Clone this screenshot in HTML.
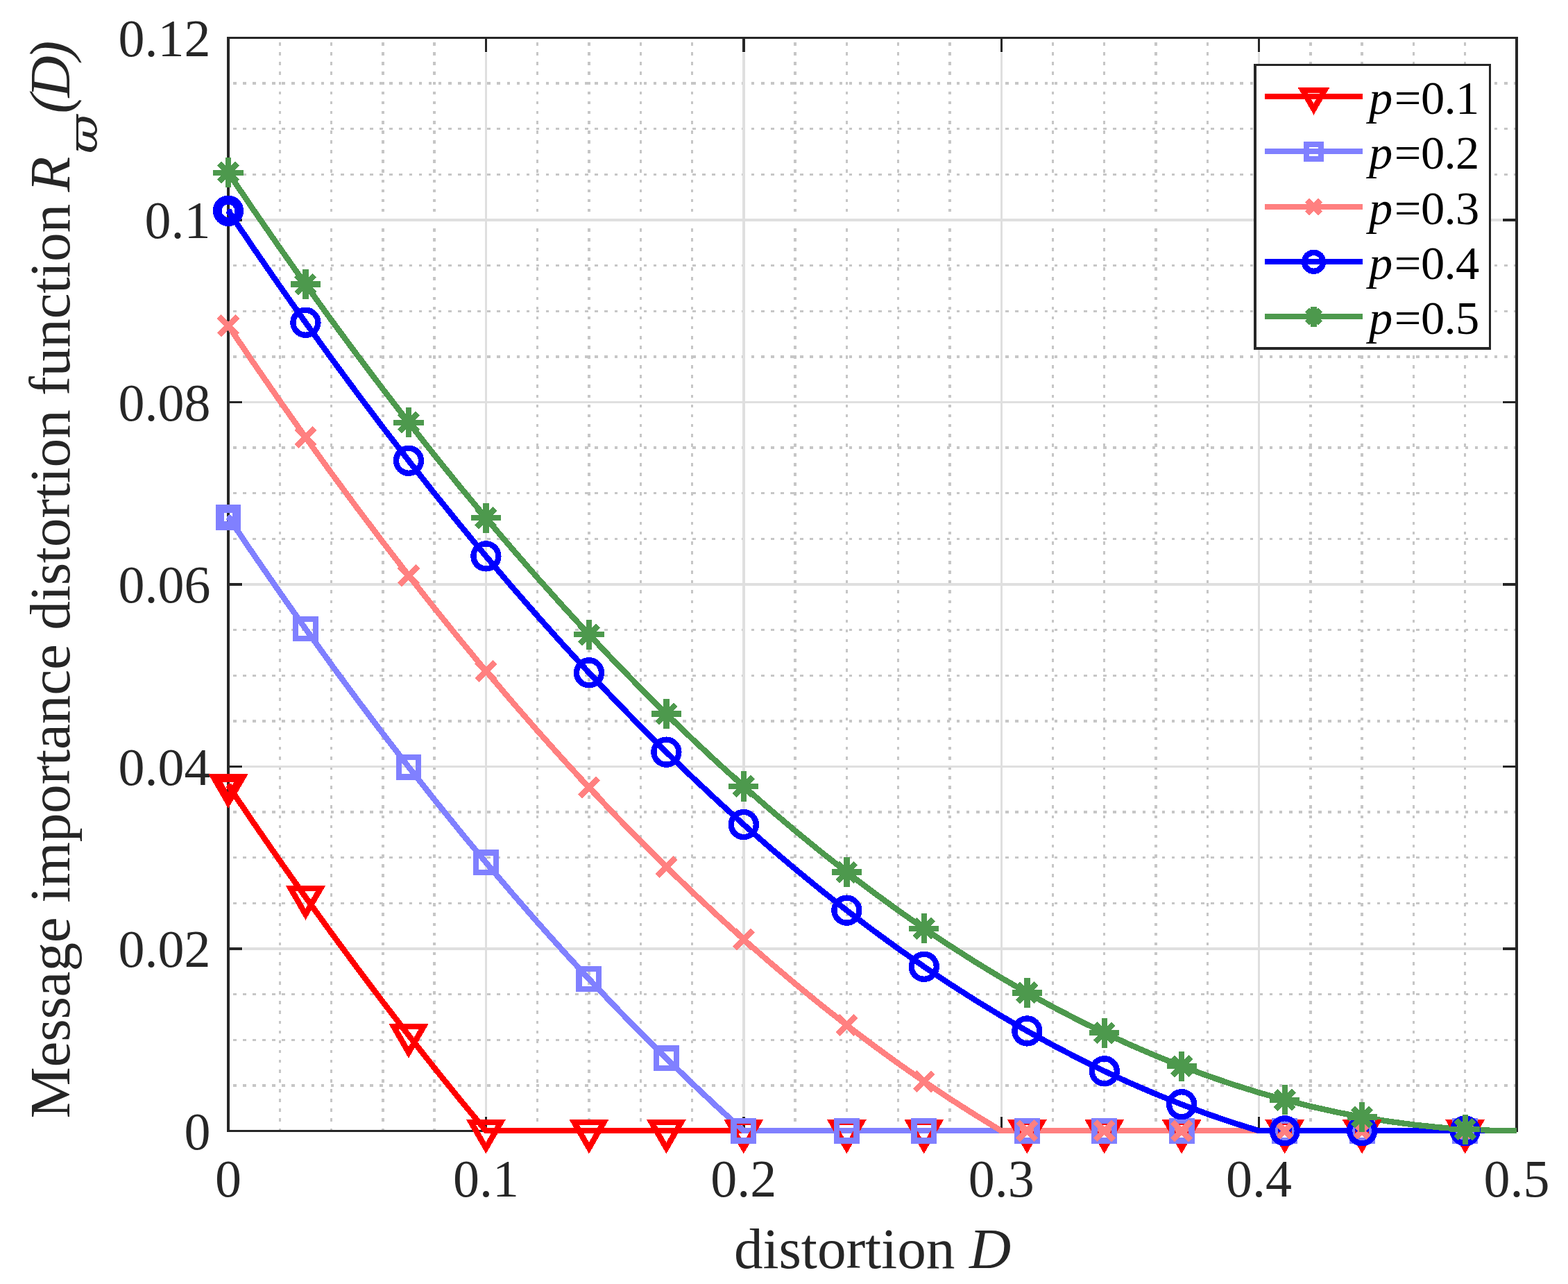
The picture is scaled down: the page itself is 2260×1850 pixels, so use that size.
<!DOCTYPE html>
<html lang="en"><head><meta charset="utf-8"><title>Message importance distortion function</title>
<style>html,body{margin:0;padding:0;background:#fff}body{width:2260px;height:1850px;overflow:hidden}svg{display:block}text{font-family:"Liberation Serif",serif}.tk{font-size:76px;fill:#262626}.lb{font-size:83.33px;fill:#262626}.lg{font-size:68.5px;fill:#000}.i{font-style:italic}</style></head><body>
<svg width="2260" height="1850" viewBox="0 0 2260 1850" role="img" aria-label="Message importance distortion function versus distortion D">
<rect width="2260" height="1850" fill="#fff"/>
<g shape-rendering="crispEdges" fill="none" stroke="#c6c6c6" stroke-dasharray="4.6 9.493">
<path stroke-width="3" d="M403.5 61.2V1628"/>
<path stroke-width="3" d="M477.5 61.2V1628"/>
<path stroke-width="4" d="M552 61.2V1628"/>
<path stroke-width="4" d="M626 61.2V1628"/>
<path stroke-width="3" d="M774.5 61.2V1628"/>
<path stroke-width="4" d="M849 61.2V1628"/>
<path stroke-width="3" d="M923.5 61.2V1628"/>
<path stroke-width="3" d="M997.5 61.2V1628"/>
<path stroke-width="4" d="M1146 61.2V1628"/>
<path stroke-width="3" d="M1220.5 61.2V1628"/>
<path stroke-width="3" d="M1294.5 61.2V1628"/>
<path stroke-width="4" d="M1369 61.2V1628"/>
<path stroke-width="3" d="M1517.5 61.2V1628"/>
<path stroke-width="3" d="M1591.5 61.2V1628"/>
<path stroke-width="4" d="M1666 61.2V1628"/>
<path stroke-width="3" d="M1740.5 61.2V1628"/>
<path stroke-width="4" d="M1889 61.2V1628"/>
<path stroke-width="4" d="M1963 61.2V1628"/>
<path stroke-width="3" d="M2037.5 61.2V1628"/>
<path stroke-width="3" d="M2111.5 61.2V1628"/>
<path stroke-width="4" d="M335.9 1564H2184"/>
<path stroke-width="3" d="M335.9 1498.5H2184"/>
<path stroke-width="3" d="M335.9 1432.5H2184"/>
<path stroke-width="3" d="M335.9 1301.5H2184"/>
<path stroke-width="3" d="M335.9 1235.5H2184"/>
<path stroke-width="4" d="M335.9 1170H2184"/>
<path stroke-width="4" d="M335.9 1039H2184"/>
<path stroke-width="3" d="M335.9 973.5H2184"/>
<path stroke-width="3" d="M335.9 907.5H2184"/>
<path stroke-width="3" d="M335.9 776.5H2184"/>
<path stroke-width="3" d="M335.9 710.5H2184"/>
<path stroke-width="4" d="M335.9 645H2184"/>
<path stroke-width="4" d="M335.9 514H2184"/>
<path stroke-width="3" d="M335.9 448.5H2184"/>
<path stroke-width="3" d="M335.9 382.5H2184"/>
<path stroke-width="3" d="M335.9 251.5H2184"/>
<path stroke-width="3" d="M335.9 185.5H2184"/>
<path stroke-width="4" d="M335.9 120H2184"/>
</g>
<g shape-rendering="crispEdges" fill="#dfdfdf">
<rect x="699" y="76" width="3" height="1532"/>
<rect x="1070" y="76" width="4" height="1532"/>
<rect x="1442" y="76" width="3" height="1532"/>
<rect x="1813" y="76" width="3" height="1532"/>
<rect x="350" y="1365" width="1815" height="4"/>
<rect x="350" y="1103" width="1815" height="3"/>
<rect x="350" y="840" width="1815" height="4"/>
<rect x="350" y="578" width="1815" height="3"/>
<rect x="350" y="315" width="1815" height="4"/>
</g>
<g shape-rendering="crispEdges" fill="#262626">
<rect x="327" y="53" width="4" height="1578"/>
<rect x="2184" y="53" width="4" height="1578"/>
<rect x="327" y="53" width="1861" height="3"/>
<rect x="327" y="1628" width="1861" height="3"/>
<rect x="699" y="56" width="3" height="19"/>
<rect x="699" y="1609" width="3" height="19"/>
<rect x="1070" y="56" width="4" height="19"/>
<rect x="1070" y="1609" width="4" height="19"/>
<rect x="1442" y="56" width="3" height="19"/>
<rect x="1442" y="1609" width="3" height="19"/>
<rect x="1813" y="56" width="3" height="19"/>
<rect x="1813" y="1609" width="3" height="19"/>
<rect x="331" y="1365" width="18" height="4"/>
<rect x="2166" y="1365" width="18" height="4"/>
<rect x="331" y="1103" width="18" height="3"/>
<rect x="2166" y="1103" width="18" height="3"/>
<rect x="331" y="840" width="18" height="4"/>
<rect x="2166" y="840" width="18" height="4"/>
<rect x="331" y="578" width="18" height="3"/>
<rect x="2166" y="578" width="18" height="3"/>
<rect x="331" y="315" width="18" height="4"/>
<rect x="2166" y="315" width="18" height="4"/>
</g>
<g class="tk" text-anchor="middle">
<text x="329" y="1724">0</text>
<text x="700.4" y="1724">0.1</text>
<text x="1071.8" y="1724">0.2</text>
<text x="1443.2" y="1724">0.3</text>
<text x="1814.6" y="1724">0.4</text>
<text x="2186" y="1724">0.5</text>
</g>
<g class="tk" text-anchor="end">
<text x="303.5" y="1655.7">0</text>
<text x="303.5" y="1393.2">0.02</text>
<text x="303.5" y="1130.7">0.04</text>
<text x="303.5" y="868.2">0.06</text>
<text x="303.5" y="605.7">0.08</text>
<text x="303.5" y="343.2">0.1</text>
<text x="303.5" y="80.7">0.12</text>
</g>
<text class="lb" text-anchor="middle" x="1257.5" y="1826.5" style="letter-spacing:-0.12px">distortion <tspan class="i">D</tspan></text>
<g transform="translate(100 0) rotate(-90)">
<text class="lb" x="-1611.4" y="0" style="letter-spacing:-0.23px">Message importance distortion function</text>
<text class="lb i" x="-276.5 -163.5 -140.4 -86.5" y="0">R(D)</text>
<text class="i" style="font-family:'DejaVu Serif',serif;font-size:57.4px;fill:#262626" transform="translate(-221.2 39.6) scale(1.188 1)" x="0" y="0">ϖ</text>
</g>
<g shape-rendering="crispEdges" fill="none" stroke-width="8.33" stroke-linejoin="round">
<polyline stroke="#ff0000" points="329,1131.71 366.14,1186.47 403.28,1240.12 440.42,1292.65 477.56,1344.08 514.7,1394.39 551.84,1443.59 588.98,1491.68 626.12,1538.67 663.26,1584.54 700.4,1629.3 737.54,1629.3 774.68,1629.3 811.82,1629.3 848.96,1629.3 886.1,1629.3 923.24,1629.3 960.38,1629.3 997.52,1629.3 1034.66,1629.3 1071.8,1629.3 1108.94,1629.3 1146.08,1629.3 1183.22,1629.3 1220.36,1629.3 1257.5,1629.3 1294.64,1629.3 1331.78,1629.3 1368.92,1629.3 1406.06,1629.3 1443.2,1629.3 1480.34,1629.3 1517.48,1629.3 1554.62,1629.3 1591.76,1629.3 1628.9,1629.3 1666.04,1629.3 1703.18,1629.3 1740.32,1629.3 1777.46,1629.3 1814.6,1629.3 1851.74,1629.3 1888.88,1629.3 1926.02,1629.3 1963.16,1629.3 2000.3,1629.3 2037.44,1629.3 2074.58,1629.3 2111.72,1629.3 2148.86,1629.3 2186,1629.3"/>
<polyline stroke="#8080ff" points="329,745.08 366.14,799.83 403.28,853.48 440.42,906.02 477.56,957.44 514.7,1007.75 551.84,1056.96 588.98,1105.05 626.12,1152.03 663.26,1197.9 700.4,1242.66 737.54,1286.32 774.68,1328.86 811.82,1370.29 848.96,1410.62 886.1,1449.84 923.24,1487.95 960.38,1524.95 997.52,1560.84 1034.66,1595.62 1071.8,1629.3 1108.94,1629.3 1146.08,1629.3 1183.22,1629.3 1220.36,1629.3 1257.5,1629.3 1294.64,1629.3 1331.78,1629.3 1368.92,1629.3 1406.06,1629.3 1443.2,1629.3 1480.34,1629.3 1517.48,1629.3 1554.62,1629.3 1591.76,1629.3 1628.9,1629.3 1666.04,1629.3 1703.18,1629.3 1740.32,1629.3 1777.46,1629.3 1814.6,1629.3 1851.74,1629.3 1888.88,1629.3 1926.02,1629.3 1963.16,1629.3 2000.3,1629.3 2037.44,1629.3 2074.58,1629.3 2111.72,1629.3 2148.86,1629.3 2186,1629.3"/>
<polyline stroke="#ff8080" points="329,469.18 366.14,523.93 403.28,577.58 440.42,630.11 477.56,681.54 514.7,731.85 551.84,781.05 588.98,829.15 626.12,876.13 663.26,922 700.4,966.76 737.54,1010.42 774.68,1052.96 811.82,1094.39 848.96,1134.72 886.1,1173.94 923.24,1212.04 960.38,1249.04 997.52,1284.94 1034.66,1319.72 1071.8,1353.4 1108.94,1385.97 1146.08,1417.43 1183.22,1447.79 1220.36,1477.04 1257.5,1505.18 1294.64,1532.21 1331.78,1558.14 1368.92,1582.97 1406.06,1606.69 1443.2,1629.3 1480.34,1629.3 1517.48,1629.3 1554.62,1629.3 1591.76,1629.3 1628.9,1629.3 1666.04,1629.3 1703.18,1629.3 1740.32,1629.3 1777.46,1629.3 1814.6,1629.3 1851.74,1629.3 1888.88,1629.3 1926.02,1629.3 1963.16,1629.3 2000.3,1629.3 2037.44,1629.3 2074.58,1629.3 2111.72,1629.3 2148.86,1629.3 2186,1629.3"/>
<polyline stroke="#0000ff" points="329,303.79 366.14,358.55 403.28,412.2 440.42,464.73 477.56,516.16 514.7,566.47 551.84,615.67 588.98,663.76 626.12,710.75 663.26,756.62 700.4,801.38 737.54,845.03 774.68,887.58 811.82,929.01 848.96,969.34 886.1,1008.55 923.24,1046.66 960.38,1083.66 997.52,1119.55 1034.66,1154.34 1071.8,1188.02 1108.94,1220.59 1146.08,1252.05 1183.22,1282.4 1220.36,1311.65 1257.5,1339.8 1294.64,1366.83 1331.78,1392.76 1368.92,1417.59 1406.06,1441.3 1443.2,1463.92 1480.34,1485.43 1517.48,1505.83 1554.62,1525.13 1591.76,1543.32 1628.9,1560.41 1666.04,1576.4 1703.18,1591.28 1740.32,1605.05 1777.46,1617.73 1814.6,1629.3 1851.74,1629.3 1888.88,1629.3 1926.02,1629.3 1963.16,1629.3 2000.3,1629.3 2037.44,1629.3 2074.58,1629.3 2111.72,1629.3 2148.86,1629.3 2186,1629.3"/>
<polyline stroke="#4d994d" points="329,248.71 366.14,303.47 403.28,357.12 440.42,409.65 477.56,461.08 514.7,511.39 551.84,560.59 588.98,608.68 626.12,655.67 663.26,701.54 700.4,746.3 737.54,789.95 774.68,832.5 811.82,873.93 848.96,914.26 886.1,953.47 923.24,991.58 960.38,1028.58 997.52,1064.48 1034.66,1099.26 1071.8,1132.94 1108.94,1165.51 1146.08,1196.97 1183.22,1227.32 1220.36,1256.57 1257.5,1284.72 1294.64,1311.75 1331.78,1337.68 1368.92,1362.51 1406.06,1386.23 1443.2,1408.84 1480.34,1430.35 1517.48,1450.75 1554.62,1470.05 1591.76,1488.24 1628.9,1505.33 1666.04,1521.32 1703.18,1536.2 1740.32,1549.98 1777.46,1562.65 1814.6,1574.22 1851.74,1584.69 1888.88,1594.05 1926.02,1602.32 1963.16,1609.48 2000.3,1615.53 2037.44,1620.49 2074.58,1624.35 2111.72,1627.1 2148.86,1628.75 2186,1629.3"/>
</g>
<g shape-rendering="crispEdges" fill="none" stroke="#ff0000" stroke-width="8.33" stroke-linejoin="miter" stroke-miterlimit="10">
<path d="M307.52 1119.31H350.48L329 1156.51Z"/>
<path d="M418.94 1280.25H461.9L440.42 1317.45Z"/>
<path d="M567.5 1479.28H610.46L588.98 1516.48Z"/>
<path d="M678.92 1616.9H721.88L700.4 1654.1Z"/>
<path d="M827.48 1616.9H870.44L848.96 1654.1Z"/>
<path d="M938.9 1616.9H981.86L960.38 1654.1Z"/>
<path d="M1050.32 1616.9H1093.28L1071.8 1654.1Z"/>
<path d="M1198.88 1616.9H1241.84L1220.36 1654.1Z"/>
<path d="M1310.3 1616.9H1353.26L1331.78 1654.1Z"/>
<path d="M1458.86 1616.9H1501.82L1480.34 1654.1Z"/>
<path d="M1570.28 1616.9H1613.24L1591.76 1654.1Z"/>
<path d="M1681.7 1616.9H1724.66L1703.18 1654.1Z"/>
<path d="M1830.26 1616.9H1873.22L1851.74 1654.1Z"/>
<path d="M1941.68 1616.9H1984.64L1963.16 1654.1Z"/>
<path d="M2090.24 1616.9H2133.2L2111.72 1654.1Z"/>
</g>
<g shape-rendering="crispEdges" fill="none" stroke="#8080ff" stroke-width="8.33" stroke-linejoin="miter" stroke-miterlimit="10">
<rect x="314.7" y="730.78" width="28.6" height="28.6"/>
<rect x="426.12" y="891.72" width="28.6" height="28.6"/>
<rect x="574.68" y="1090.75" width="28.6" height="28.6"/>
<rect x="686.1" y="1228.36" width="28.6" height="28.6"/>
<rect x="834.66" y="1396.32" width="28.6" height="28.6"/>
<rect x="946.08" y="1510.65" width="28.6" height="28.6"/>
<rect x="1057.5" y="1615" width="28.6" height="28.6"/>
<rect x="1206.06" y="1615" width="28.6" height="28.6"/>
<rect x="1317.48" y="1615" width="28.6" height="28.6"/>
<rect x="1466.04" y="1615" width="28.6" height="28.6"/>
<rect x="1577.46" y="1615" width="28.6" height="28.6"/>
<rect x="1688.88" y="1615" width="28.6" height="28.6"/>
<rect x="1837.44" y="1615" width="28.6" height="28.6"/>
<rect x="1948.86" y="1615" width="28.6" height="28.6"/>
<rect x="2097.42" y="1615" width="28.6" height="28.6"/>
</g>
<g shape-rendering="crispEdges" fill="none" stroke="#ff8080" stroke-width="8.33" stroke-linejoin="miter" stroke-miterlimit="10">
<path d="M315.9 456.08L342.1 482.28M315.9 482.28L342.1 456.08"/>
<path d="M427.32 617.01L453.52 643.21M427.32 643.21L453.52 617.01"/>
<path d="M575.88 816.05L602.08 842.25M575.88 842.25L602.08 816.05"/>
<path d="M687.3 953.66L713.5 979.86M687.3 979.86L713.5 953.66"/>
<path d="M835.86 1121.62L862.06 1147.82M835.86 1147.82L862.06 1121.62"/>
<path d="M947.28 1235.94L973.48 1262.14M947.28 1262.14L973.48 1235.94"/>
<path d="M1058.7 1340.3L1084.9 1366.5M1058.7 1366.5L1084.9 1340.3"/>
<path d="M1207.26 1463.94L1233.46 1490.14M1207.26 1490.14L1233.46 1463.94"/>
<path d="M1318.68 1545.04L1344.88 1571.24M1318.68 1571.24L1344.88 1545.04"/>
<path d="M1467.24 1616.2L1493.44 1642.4M1467.24 1642.4L1493.44 1616.2"/>
<path d="M1578.66 1616.2L1604.86 1642.4M1578.66 1642.4L1604.86 1616.2"/>
<path d="M1690.08 1616.2L1716.28 1642.4M1690.08 1642.4L1716.28 1616.2"/>
<path d="M1838.64 1616.2L1864.84 1642.4M1838.64 1642.4L1864.84 1616.2"/>
<path d="M1950.06 1616.2L1976.26 1642.4M1950.06 1642.4L1976.26 1616.2"/>
<path d="M2098.62 1616.2L2124.82 1642.4M2098.62 1642.4L2124.82 1616.2"/>
</g>
<g shape-rendering="crispEdges" fill="none" stroke="#0000ff" stroke-width="8.33" stroke-linejoin="miter" stroke-miterlimit="10">
<circle cx="329" cy="303.79" r="18"/>
<circle cx="440.42" cy="464.73" r="18"/>
<circle cx="588.98" cy="663.76" r="18"/>
<circle cx="700.4" cy="801.38" r="18"/>
<circle cx="848.96" cy="969.34" r="18"/>
<circle cx="960.38" cy="1083.66" r="18"/>
<circle cx="1071.8" cy="1188.02" r="18"/>
<circle cx="1220.36" cy="1311.65" r="18"/>
<circle cx="1331.78" cy="1392.76" r="18"/>
<circle cx="1480.34" cy="1485.43" r="18"/>
<circle cx="1591.76" cy="1543.32" r="18"/>
<circle cx="1703.18" cy="1591.28" r="18"/>
<circle cx="1851.74" cy="1629.3" r="18"/>
<circle cx="1963.16" cy="1629.3" r="18"/>
<circle cx="2111.72" cy="1629.3" r="18"/>
</g>
<g shape-rendering="crispEdges" fill="none" stroke="#4d994d" stroke-width="8.33" stroke-linejoin="miter" stroke-miterlimit="10">
<path d="M315.9 235.61L342.1 261.81M315.9 261.81L342.1 235.61M307.4 248.71H350.6M329 227.11V270.31"/>
<path d="M427.32 396.55L453.52 422.75M427.32 422.75L453.52 396.55M418.82 409.65H462.02M440.42 388.05V431.25"/>
<path d="M575.88 595.58L602.08 621.78M575.88 621.78L602.08 595.58M567.38 608.68H610.58M588.98 587.08V630.28"/>
<path d="M687.3 733.2L713.5 759.4M687.3 759.4L713.5 733.2M678.8 746.3H722M700.4 724.7V767.9"/>
<path d="M835.86 901.16L862.06 927.36M835.86 927.36L862.06 901.16M827.36 914.26H870.56M848.96 892.66V935.86"/>
<path d="M947.28 1015.48L973.48 1041.68M947.28 1041.68L973.48 1015.48M938.78 1028.58H981.98M960.38 1006.98V1050.18"/>
<path d="M1058.7 1119.84L1084.9 1146.04M1058.7 1146.04L1084.9 1119.84M1050.2 1132.94H1093.4M1071.8 1111.34V1154.54"/>
<path d="M1207.26 1243.47L1233.46 1269.67M1207.26 1269.67L1233.46 1243.47M1198.76 1256.57H1241.96M1220.36 1234.97V1278.17"/>
<path d="M1318.68 1324.58L1344.88 1350.78M1318.68 1350.78L1344.88 1324.58M1310.18 1337.68H1353.38M1331.78 1316.08V1359.28"/>
<path d="M1467.24 1417.25L1493.44 1443.45M1467.24 1443.45L1493.44 1417.25M1458.74 1430.35H1501.94M1480.34 1408.75V1451.95"/>
<path d="M1578.66 1475.14L1604.86 1501.34M1578.66 1501.34L1604.86 1475.14M1570.16 1488.24H1613.36M1591.76 1466.64V1509.84"/>
<path d="M1690.08 1523.1L1716.28 1549.3M1690.08 1549.3L1716.28 1523.1M1681.58 1536.2H1724.78M1703.18 1514.6V1557.8"/>
<path d="M1838.64 1571.59L1864.84 1597.79M1838.64 1597.79L1864.84 1571.59M1830.14 1584.69H1873.34M1851.74 1563.09V1606.29"/>
<path d="M1950.06 1596.38L1976.26 1622.58M1950.06 1622.58L1976.26 1596.38M1941.56 1609.48H1984.76M1963.16 1587.88V1631.08"/>
<path d="M2098.62 1614L2124.82 1640.2M2098.62 1640.2L2124.82 1614M2090.12 1627.1H2133.32M2111.72 1605.5V1648.7"/>
</g>
<g shape-rendering="crispEdges" fill="none" stroke="#ff0000" stroke-width="8.33" stroke-linejoin="miter" stroke-miterlimit="10">
<circle cx="331" cy="1132.71" r="4" fill="#ff0000" stroke="none"/>
<path d="M313.41 1122.71H344.59L329 1149.71Z"/>
</g>
<g shape-rendering="crispEdges" fill="none" stroke="#8080ff" stroke-width="8.33" stroke-linejoin="miter" stroke-miterlimit="10">
<circle cx="331" cy="746.08" r="4" fill="#8080ff" stroke="none"/>
<rect x="318.5" y="734.58" width="21" height="21"/>
</g>
<g shape-rendering="crispEdges" fill="none" stroke="#ff8080" stroke-width="8.33" stroke-linejoin="miter" stroke-miterlimit="10">
<circle cx="331" cy="470.18" r="4" fill="#ff8080" stroke="none"/>
<path d="M319.4 459.58L338.6 478.78M319.4 478.78L338.6 459.58"/>
</g>
<g shape-rendering="crispEdges" fill="none" stroke="#0000ff" stroke-width="8.33" stroke-linejoin="miter" stroke-miterlimit="10">
<circle cx="331" cy="304.79" r="4" fill="#0000ff" stroke="none"/>
<circle cx="329" cy="303.79" r="13.5"/>
</g>
<g shape-rendering="crispEdges" fill="none" stroke="#4d994d" stroke-width="8.33" stroke-linejoin="miter" stroke-miterlimit="10">
<circle cx="331" cy="249.71" r="4" fill="#4d994d" stroke="none"/>
<path d="M319.4 239.11L338.6 258.31M319.4 258.31L338.6 239.11M314.7 248.71H343.3M329 234.41V263.01"/>
</g>
<g shape-rendering="crispEdges">
<rect x="1807" y="92" width="342" height="412" fill="#262626"/>
<rect x="1811" y="95" width="335" height="405" fill="#fff"/>
</g>
<g shape-rendering="crispEdges" fill="none" stroke="#ff0000" stroke-width="8.33" stroke-linejoin="miter" stroke-miterlimit="10">
<path d="M1823 139H1964"/>
<path d="M1877.91 130.3H1909.09L1893.5 157.3Z"/>
</g>
<text class="lg" x="1973 2009.8 2047.9 2081.5 2097.9" y="164"><tspan class="i">p</tspan>=0.1</text>
<g shape-rendering="crispEdges" fill="none" stroke="#8080ff" stroke-width="8.33" stroke-linejoin="miter" stroke-miterlimit="10">
<path d="M1823 218H1964"/>
<rect x="1883" y="207.8" width="21" height="21"/>
</g>
<text class="lg" x="1973 2009.8 2047.9 2081.5 2097.9" y="243"><tspan class="i">p</tspan>=0.2</text>
<g shape-rendering="crispEdges" fill="none" stroke="#ff8080" stroke-width="8.33" stroke-linejoin="miter" stroke-miterlimit="10">
<path d="M1823 298H1964"/>
<path d="M1883.9 288.7L1903.1 307.9M1883.9 307.9L1903.1 288.7"/>
</g>
<text class="lg" x="1973 2009.8 2047.9 2081.5 2097.9" y="323"><tspan class="i">p</tspan>=0.3</text>
<g shape-rendering="crispEdges" fill="none" stroke="#0000ff" stroke-width="8.33" stroke-linejoin="miter" stroke-miterlimit="10">
<path d="M1823 377H1964"/>
<circle cx="1893.5" cy="377.3" r="13.5"/>
</g>
<text class="lg" x="1973 2009.8 2047.9 2081.5 2097.9" y="402"><tspan class="i">p</tspan>=0.4</text>
<g shape-rendering="crispEdges" fill="none" stroke="#4d994d" stroke-width="8.33" stroke-linejoin="miter" stroke-miterlimit="10">
<path d="M1823 456H1964"/>
<path d="M1883.9 446.7L1903.1 465.9M1883.9 465.9L1903.1 446.7M1879.2 456.3H1907.8M1893.5 442V470.6"/>
</g>
<text class="lg" x="1973 2009.8 2047.9 2081.5 2097.9" y="481"><tspan class="i">p</tspan>=0.5</text>
</svg>
</body></html>
